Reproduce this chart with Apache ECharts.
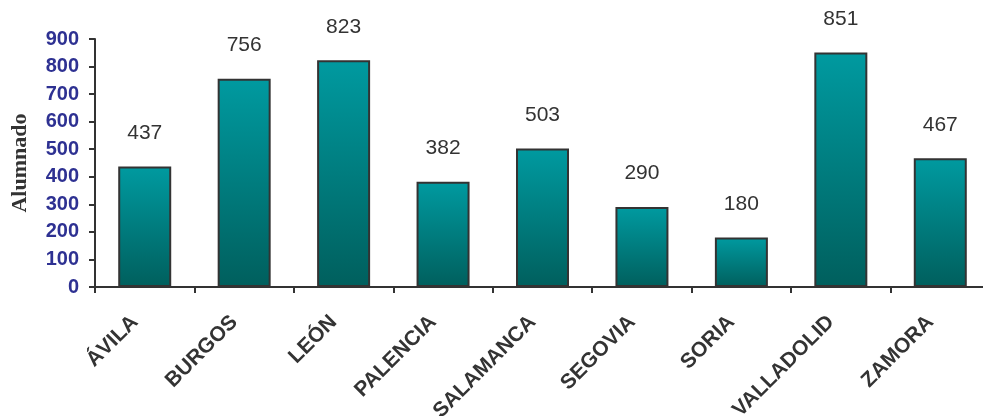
<!DOCTYPE html>
<html>
<head>
<meta charset="utf-8">
<script src="https://cdn.jsdelivr.net/npm/echarts@6/dist/echarts.min.js"></script>
<style>html,body{margin:0;padding:0;background:#fff;}#c{width:983px;height:416px;}</style>
</head>
<body>
<div id="c"></div>
<script>
const categories = ['ÁVILA','BURGOS','LEÓN','PALENCIA','SALAMANCA','SEGOVIA','SORIA','VALLADOLID','ZAMORA'];
const alumnado = [437, 756, 823, 382, 503, 290, 180, 851, 467];
const yTicks = [0,100,200,300,400,500,600,700,800,900];

const chart = echarts.init(document.getElementById('c'));
chart.setOption({
  animation: false,
  grid: {left: 95, top: 39, width: 895, height: 248, containLabel: false, outerBoundsMode: 'none'},
  xAxis: {
    type: 'category',
    data: categories,
    axisLine: {lineStyle: {color: '#333', width: 2}},
    axisTick: {show: true, alignWithLabel: false, length: 6, lineStyle: {color: '#333', width: 2}},
    axisLabel: {rotate: 45, margin: 22, padding: [0, 14, 0, 0], color: '#333', fontFamily: 'Liberation Sans, Arial', fontWeight: 'bold', fontSize: 21, interval: 0}
  },
  yAxis: {
    type: 'value',
    min: 0, max: 900, interval: 100,
    name: 'Alumnado',
    nameLocation: 'middle',
    nameGap: 64,
    nameRotate: 90,
    nameTextStyle: {fontFamily: 'Liberation Serif, Times New Roman', fontWeight: 'bold', fontSize: 22, color: '#333'},
    splitLine: {show: false},
    axisLine: {show: true, lineStyle: {color: '#333', width: 2}},
    axisTick: {show: true, length: 6, lineStyle: {color: '#333', width: 2}},
    axisLabel: {margin: 16, color: '#2e3192', fontFamily: 'Liberation Sans, Arial', fontWeight: 'bold', fontSize: 20,
      formatter: v => String(v)}
  },
  series: [{
    type: 'bar',
    data: alumnado,
    barWidth: 53,
    itemStyle: {
      borderColor: '#333', borderWidth: 2,
      color: new echarts.graphic.LinearGradient(0,0,0,1,[{offset:0,color:'#009aa0'},{offset:1,color:'#005f5d'}])
    },
    label: {show: true, position: 'top', distance: 23, color: '#333', fontFamily: 'Liberation Sans, Arial', fontSize: 21}
  }]
});
</script>
</body>
</html>
